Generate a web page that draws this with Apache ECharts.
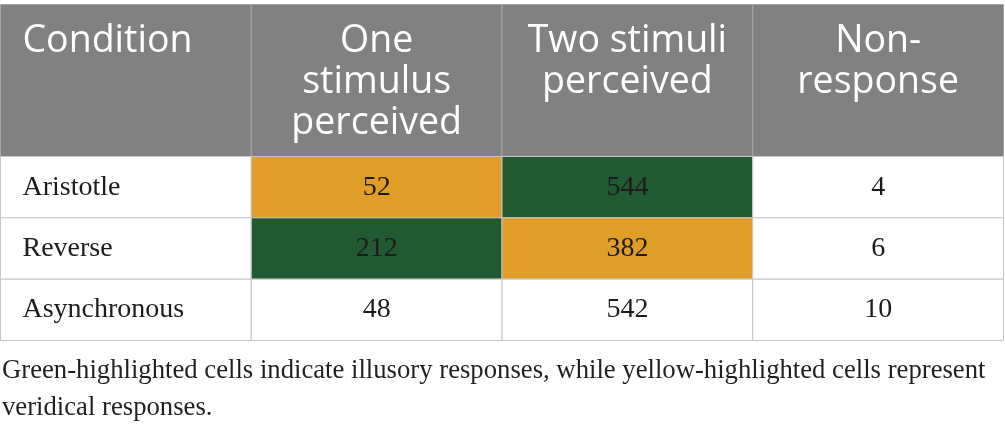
<!DOCTYPE html>
<html>
<head>
<meta charset="utf-8">
<script src="https://cdn.jsdelivr.net/npm/echarts@6/dist/echarts.min.js"></script>
<style>
  html, body { margin: 0; padding: 0; background: #fff; }
  #chart { width: 1005px; height: 430px; }
</style>
</head>
<body>
<div id="chart"></div>
<script>
// table content
const columns = ['Condition', 'One\nstimulus\nperceived', 'Two stimuli\nperceived', 'Non-\nresponse'];
const conditions = ['Aristotle', 'Reverse', 'Asynchronous'];
const oneStimulus = [52, 212, 48];
const twoStimuli = [544, 382, 542];
const nonResponse = [4, 6, 10];
// highlight of each cell: veridical = yellow, illusory = green
const oneStimulusKind = ['veridical', 'illusory', ''];
const twoStimuliKind = ['illusory', 'veridical', ''];
const caption = 'Green-highlighted cells indicate illusory responses, while yellow-highlighted cells represent\nveridical responses.';

const fills = { veridical: '#E09E28', illusory: '#215A30', '': '#ffffff' };

// header row cells
const headerData = columns.map((c, i) => [i, 0]);

// body cells, one per column and condition
let bodyData = [];
let bodyText = [];
let bodyKind = [];
conditions.forEach((name, r) => {
  const row = [name, oneStimulus[r], twoStimuli[r], nonResponse[r]];
  const kinds = ['', oneStimulusKind[r], twoStimuliKind[r], ''];
  row.forEach((v, c) => {
    bodyData.push([c, r]);
    bodyText.push(String(v));
    bodyKind.push(kinds[c]);
  });
});

function cellBox(api) {
  const c = api.coord([api.value(0), api.value(1)]);
  const s = api.size([1, 1]);
  return { cx: c[0], cy: c[1], x: c[0] - s[0] / 2, y: c[1] - s[1] / 2, w: s[0], h: s[1] };
}

function renderHeader(params, api) {
  const b = cellBox(api);
  const col = api.value(0);
  return {
    type: 'group',
    children: [
      { type: 'rect', shape: { x: b.x, y: b.y, width: b.w, height: b.h },
        style: { fill: '#808180', stroke: '#a6a6a6', lineWidth: 1 } },
      { type: 'text', style: {
          text: columns[col],
          x: col === 0 ? b.x + 22 : b.cx,
          y: b.y + 16,
          align: col === 0 ? 'left' : 'center',
          verticalAlign: 'top',
          fontFamily: '"Open Sans"',
          fontSize: 37.5,
          lineHeight: 41,
          fill: '#ffffff'
        } }
    ]
  };
}

function renderBody(params, api) {
  const b = cellBox(api);
  const col = api.value(0);
  const i = params.dataIndex;
  return {
    type: 'group',
    children: [
      { type: 'rect', shape: { x: b.x, y: b.y, width: b.w, height: b.h },
        style: { fill: fills[bodyKind[i]], stroke: '#c6c6c6', lineWidth: 1 } },
      { type: 'text', style: {
          text: bodyText[i],
          x: col === 0 ? b.x + 22 : b.cx,
          y: b.cy,
          align: col === 0 ? 'left' : 'center',
          verticalAlign: 'middle',
          fontFamily: '"Liberation Serif"',
          fontSize: 28,
          fill: '#1c1c1c'
        } }
    ]
  };
}

const chart = echarts.init(document.getElementById('chart'));

const hiddenAxis = { show: false };

const option = {
  animation: false,
  title: {
    text: caption,
    left: 2,
    top: 352,
    padding: 0,
    textStyle: {
      fontFamily: '"Liberation Serif"',
      fontSize: 26.7,
      fontWeight: 'normal',
      lineHeight: 37,
      color: '#231f20'
    }
  },
  grid: [
    { left: 0.5, top: 4.5, width: 1003, height: 152 },
    { left: 0.5, top: 156.5, width: 1003, height: 184 }
  ],
  xAxis: [
    Object.assign({ type: 'category', gridIndex: 0, data: columns }, hiddenAxis),
    Object.assign({ type: 'category', gridIndex: 1, data: columns }, hiddenAxis)
  ],
  yAxis: [
    Object.assign({ type: 'category', gridIndex: 0, data: ['header'] }, hiddenAxis),
    Object.assign({ type: 'category', gridIndex: 1, data: conditions, inverse: true }, hiddenAxis)
  ],
  series: [
    {
      type: 'custom',
      xAxisIndex: 0,
      yAxisIndex: 0,
      renderItem: renderHeader,
      data: headerData
    },
    {
      type: 'custom',
      xAxisIndex: 1,
      yAxisIndex: 1,
      renderItem: renderBody,
      data: bodyData
    }
  ]
};

chart.setOption(option);
</script>
</body>
</html>
